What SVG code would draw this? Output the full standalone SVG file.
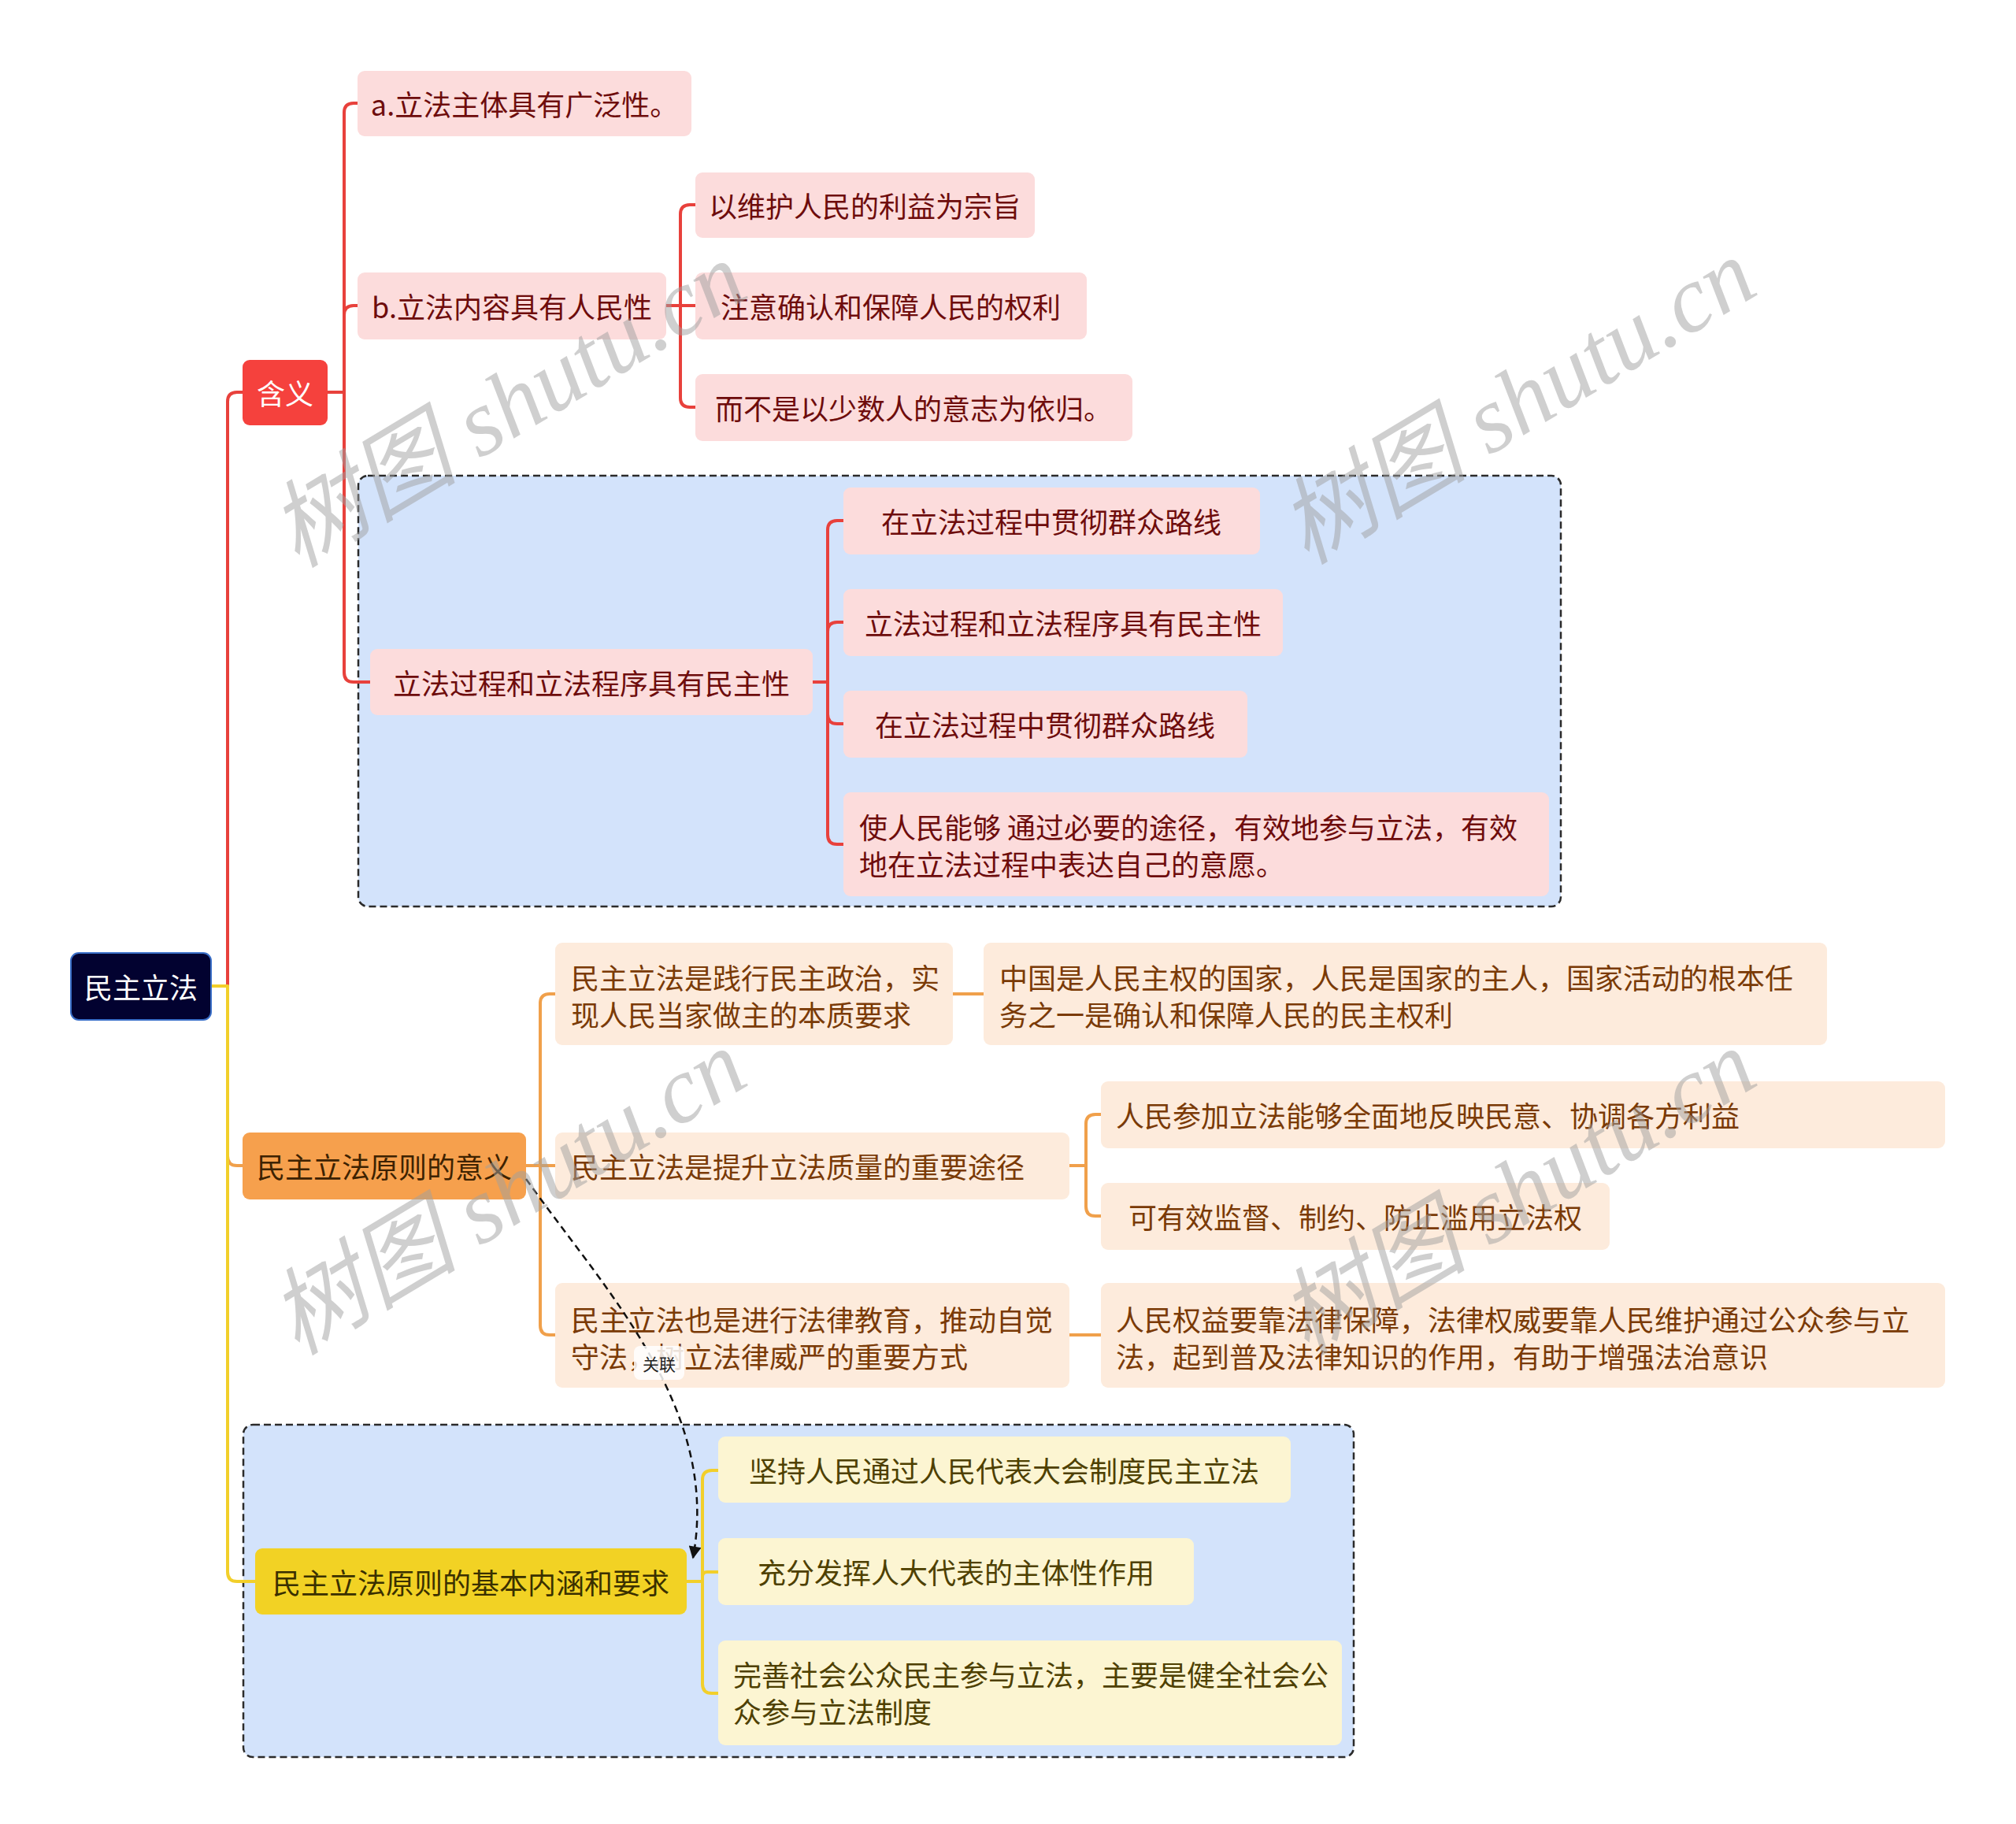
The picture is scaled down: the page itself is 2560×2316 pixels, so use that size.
<svg xmlns="http://www.w3.org/2000/svg" width="2560" height="2316" viewBox="0 0 2560 2316">
<style>
text{font-family:"Noto Sans CJK SC","Noto Sans",sans-serif;font-size:36px}
.c{text-anchor:middle;dominant-baseline:central}
.l{dominant-baseline:central}
.grp{fill:#d3e3fb;stroke:#2b2b2b;stroke-width:2.5;stroke-dasharray:9 5}
.rn{fill:#fcdcdc}.rt{fill:#6e0c0c}
.on{fill:#fdebdc}.ot{fill:#7a3a06}
.yn{fill:#fcf5d2}.yt{fill:#4e4000}
.ln{fill:none;stroke-width:4;stroke-linejoin:round}
.red{stroke:#e8413c}.org{stroke:#f0a04b}.yel{stroke:#f2cf2a}
.wm{font-family:"Liberation Serif","Noto Sans CJK SC",serif;font-style:italic;font-size:120px;fill:#a0a0a0;opacity:0.5;text-anchor:middle;dominant-baseline:central}
</style>
<defs>
<marker id="arr" viewBox="0 0 10 10" refX="9" refY="5" markerWidth="18" markerHeight="16" orient="auto" markerUnits="userSpaceOnUse">
<path d="M0,0 L10,5 L0,10 z" fill="#111"/>
</marker>
</defs>
<rect width="2560" height="2316" fill="#fff"/>
<g id="group-boxes">
<rect class="grp" x="455" y="604" width="1527" height="547" rx="12"/>
<rect class="grp" x="309" y="1809" width="1410" height="422" rx="12"/>
</g>
<g id="connectors">
<path class="ln red" d="M268,1252 H289 V510 Q289,498 301,498 H308"/>
<path class="ln red" d="M416,498 H437 V143 Q437,131 449,131 H454"/>
<path class="ln red" d="M416,498 H437 V400 Q437,388 449,388 H454"/>
<path class="ln red" d="M416,498 H437 V854 Q437,866 449,866 H470"/>
<path class="ln red" d="M846,388 H864 V272 Q864,260 876,260 H883"/>
<path class="ln red" d="M846,388 H883"/>
<path class="ln red" d="M846,388 H864 V505 Q864,517 876,517 H883"/>
<path class="ln red" d="M1032,866 H1051 V673 Q1051,661 1063,661 H1071"/>
<path class="ln red" d="M1032,866 H1051 V802 Q1051,790 1063,790 H1071"/>
<path class="ln red" d="M1032,866 H1051 V907 Q1051,919 1063,919 H1071"/>
<path class="ln red" d="M1032,866 H1051 V1060 Q1051,1072 1063,1072 H1071"/>
<path class="ln org" d="M268,1252 H289 V1468 Q289,1480 301,1480 H308"/>
<path class="ln org" d="M668,1480 H686 V1274 Q686,1262 698,1262 H705"/>
<path class="ln org" d="M668,1480 H705"/>
<path class="ln org" d="M668,1480 H686 V1683 Q686,1695 698,1695 H705"/>
<path class="ln org" d="M1210,1262 H1249"/>
<path class="ln org" d="M1358,1480 H1379 V1427 Q1379,1415 1391,1415 H1398"/>
<path class="ln org" d="M1358,1480 H1379 V1532 Q1379,1544 1391,1544 H1398"/>
<path class="ln org" d="M1358,1695 H1398"/>
<path class="ln yel" d="M268,1252 H289 V1996 Q289,2008 301,2008 H324"/>
<path class="ln yel" d="M872,2008 H892 V1879 Q892,1867 904,1867 H912"/>
<path class="ln yel" d="M872,2008 H892 V2002 Q892,1996 898,1996 H912"/>
<path class="ln yel" d="M872,2008 H892 V2138 Q892,2150 904,2150 H912"/>
</g>
<g id="root">
<rect x="90" y="1210" width="178" height="85" rx="10" fill="#020230" stroke="#3a6fc8" stroke-width="2"/>
<text class="c" x="179" y="1252" fill="#fff">民主立法</text>
</g>
<g id="n-hanyi">
<rect x="308" y="457" width="108" height="83" rx="9" fill="#f5413d"/>
<text class="c" x="362" y="498" fill="#fff">含义</text>
</g>
<g id="n-a">
<rect class="rn" x="454" y="90" width="424" height="83" rx="9"/>
<text class="c rt" x="666" y="131">a.立法主体具有广泛性。</text>
</g>
<g id="n-b">
<rect class="rn" x="454" y="346" width="392" height="85" rx="9"/>
<text class="c rt" x="650" y="388">b.立法内容具有人民性</text>
</g>
<g id="n-b1">
<rect class="rn" x="883" y="219" width="431" height="83" rx="9"/>
<text class="c rt" x="1098" y="260">以维护人民的利益为宗旨</text>
</g>
<g id="n-b2">
<rect class="rn" x="883" y="346" width="497" height="85" rx="9"/>
<text class="c rt" x="1131" y="388">注意确认和保障人民的权利</text>
</g>
<g id="n-b3">
<rect class="rn" x="883" y="475" width="555" height="85" rx="9"/>
<text class="c rt" x="1160" y="517">而不是以少数人的意志为依归。</text>
</g>
<g id="n-c">
<rect class="rn" x="470" y="824" width="562" height="84" rx="9"/>
<text class="c rt" x="751" y="866">立法过程和立法程序具有民主性</text>
</g>
<g id="n-c1">
<rect class="rn" x="1071" y="619" width="529" height="85" rx="9"/>
<text class="c rt" x="1335" y="661">在立法过程中贯彻群众路线</text>
</g>
<g id="n-c2">
<rect class="rn" x="1071" y="748" width="558" height="85" rx="9"/>
<text class="c rt" x="1350" y="790">立法过程和立法程序具有民主性</text>
</g>
<g id="n-c3">
<rect class="rn" x="1071" y="877" width="513" height="85" rx="9"/>
<text class="c rt" x="1327" y="919">在立法过程中贯彻群众路线</text>
</g>
<g id="n-c4">
<rect class="rn" x="1071" y="1006" width="896" height="132" rx="9"/>
<text class="l rt" x="1091" y="1049">使人民能够 通过必要的途径，有效地参与立法，有效</text>
<text class="l rt" x="1091" y="1096">地在立法过程中表达自己的意愿。</text>
</g>
<g id="n-yiyi">
<rect x="308" y="1438" width="360" height="85" rx="9" fill="#f6a04d"/>
<text class="c" x="488" y="1480" fill="#3d2200">民主立法原则的意义</text>
</g>
<g id="n-d1">
<rect class="on" x="705" y="1197" width="505" height="130" rx="9"/>
<text class="l ot" x="725" y="1240">民主立法是践行民主政治，实</text>
<text class="l ot" x="725" y="1287">现人民当家做主的本质要求</text>
</g>
<g id="n-d1a">
<rect class="on" x="1249" y="1197" width="1071" height="130" rx="9"/>
<text class="l ot" x="1269" y="1240">中国是人民主权的国家，人民是国家的主人，国家活动的根本任</text>
<text class="l ot" x="1269" y="1287">务之一是确认和保障人民的民主权利</text>
</g>
<g id="n-d2">
<rect class="on" x="705" y="1438" width="653" height="85" rx="9"/>
<text class="l ot" x="725" y="1480">民主立法是提升立法质量的重要途径</text>
</g>
<g id="n-d2a">
<rect class="on" x="1398" y="1373" width="1072" height="85" rx="9"/>
<text class="l ot" x="1417" y="1415">人民参加立法能够全面地反映民意、协调各方利益</text>
</g>
<g id="n-d2b">
<rect class="on" x="1398" y="1502" width="646" height="85" rx="9"/>
<text class="c ot" x="1721" y="1544">可有效监督、制约、防止滥用立法权</text>
</g>
<g id="n-d3">
<rect class="on" x="705" y="1629" width="653" height="133" rx="9"/>
<text class="l ot" x="725" y="1674">民主立法也是进行法律教育，推动自觉</text>
<text class="l ot" x="725" y="1721">守法，树立法律威严的重要方式</text>
</g>
<g id="n-d3a">
<rect class="on" x="1398" y="1629" width="1072" height="133" rx="9"/>
<text class="l ot" x="1417" y="1674">人民权益要靠法律保障，法律权威要靠人民维护通过公众参与立</text>
<text class="l ot" x="1417" y="1721">法，起到普及法律知识的作用，有助于增强法治意识</text>
</g>
<g id="n-e">
<rect x="324" y="1966" width="548" height="84" rx="9" fill="#f2d224"/>
<text class="c" x="598" y="2008" fill="#3a3000">民主立法原则的基本内涵和要求</text>
</g>
<g id="n-e1">
<rect class="yn" x="912" y="1824" width="727" height="84" rx="9"/>
<text class="c yt" x="1275" y="1866">坚持人民通过人民代表大会制度民主立法</text>
</g>
<g id="n-e2">
<rect class="yn" x="912" y="1953" width="604" height="85" rx="9"/>
<text class="c yt" x="1214" y="1995">充分发挥人大代表的主体性作用</text>
</g>
<g id="n-e3">
<rect class="yn" x="912" y="2083" width="792" height="133" rx="9"/>
<text class="l yt" x="931" y="2125">完善社会公众民主参与立法，主要是健全社会公</text>
<text class="l yt" x="931" y="2172">众参与立法制度</text>
</g>
<g id="relation">
<path d="M668,1497 C770,1640 915,1790 880,1978" fill="none" stroke="#111" stroke-width="2.5" stroke-dasharray="9 6" marker-end="url(#arr)"/>
<rect x="805" y="1709" width="64" height="43" rx="8" fill="#fff" opacity="0.85"/>
<text class="c" x="837" y="1731" style="font-size:21px" fill="#222">关联</text>
</g>
<g id="watermarks">
<text class="wm" transform="translate(645,514) rotate(-31)">树图 shutu.cn</text>
<text class="wm" transform="translate(1927,510) rotate(-31)">树图 shutu.cn</text>
<text class="wm" transform="translate(645,1514) rotate(-31)">树图 shutu.cn</text>
<text class="wm" transform="translate(1927,1514) rotate(-31)">树图 shutu.cn</text>
</g>
</svg>
